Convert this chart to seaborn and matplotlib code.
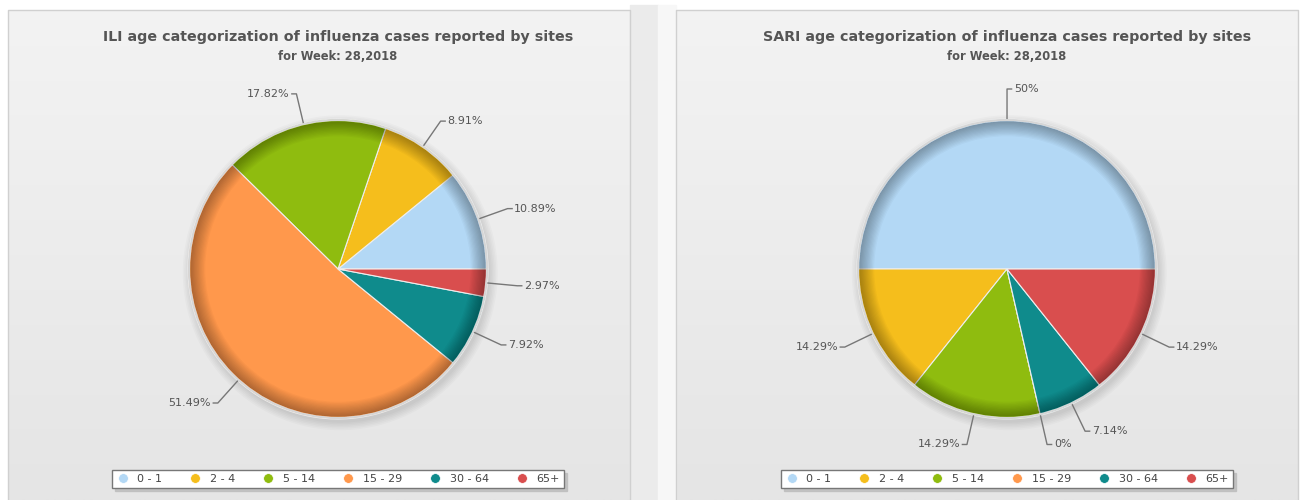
import numpy as np
import matplotlib
matplotlib.use("Agg")
import matplotlib.pyplot as plt
import seaborn as sns
from matplotlib.lines import Line2D
from matplotlib.patches import Rectangle

age_groups = ["0 - 1", "2 - 4", "5 - 14", "15 - 29", "30 - 64", "65+"]
ili_pct = [10.89, 8.91, 17.82, 51.49, 7.92, 2.97]
sari_pct = [50, 14.29, 14.29, 0, 7.14, 14.29]
ili_labels = ["10.89%", "8.91%", "17.82%", "51.49%", "7.92%", "2.97%"]
sari_labels = ["50%", "14.29%", "14.29%", "0%", "7.14%", "14.29%"]
titles = ["ILI age categorization of influenza cases reported by sites",
          "SARI age categorization of influenza cases reported by sites"]
subtitle = "for Week: 28,2018"

sns.set_style("white")
plt.rcParams['font.family'] = ['DejaVu Sans']
palette = sns.color_palette(["#b3d8f5", "#f5be1c", "#8fbc0f", "#ff984c", "#0f8b8c", "#d94e4e"])

W, H = 1302, 500
fig = plt.figure(figsize=(W / 100, H / 100), dpi=100)
fig.patch.set_facecolor("#ffffff")

# background panels
bg = fig.add_axes([0, 0, 1, 1])
bg.set_xlim(0, W)
bg.set_ylim(H, 0)
bg.axis("off")
grad = np.linspace(0, 1, 256).reshape(-1, 1)
panel_cmap = sns.blend_palette(["#f3f3f3", "#e5e5e5"], as_cmap=True)
bg.imshow(grad, cmap=panel_cmap, extent=(8, 630, H, 10), aspect="auto", zorder=0)
bg.imshow(grad, cmap=panel_cmap, extent=(676, 1298, H, 10), aspect="auto", zorder=0)
bg.add_patch(Rectangle((630, 5), 28, H, color="#ebebeb", zorder=0))
bg.add_patch(Rectangle((658, 5), 18, H, color="#f7f7f7", zorder=0))
bg.plot([8, 8, 630, 630], [H, 10, 10, H], color="#d0d0d0", lw=1, zorder=1)
bg.plot([676, 676, 1298, 1298], [H, 10, 10, H], color="#d0d0d0", lw=1, zorder=1)


def draw_pie(cx, values, labels, title):
    R = 150
    lim = 1.6
    size = 2 * lim * R
    ax = fig.add_axes([(cx - size / 2) / W, (H - 269 - size / 2) / H, size / W, size / H])
    ax.set_xlim(-lim, lim)
    ax.set_ylim(-lim, lim)
    ax.set_aspect("equal")
    ax.axis("off")
    ax.patch.set_alpha(0)

    # soft drop shadow
    for k in range(6):
        ax.pie([1], radius=1.0 + 0.01 * k, center=(0.015, -0.025), colors=["#000000"],
               wedgeprops=dict(alpha=0.02, linewidth=0), frame=True)
    ax.pie(values, colors=palette, startangle=0, counterclock=True, radius=1.0,
           wedgeprops=dict(edgecolor="#eeeeee", linewidth=0.8), frame=True)
    # bevel: darker towards the rim
    n = 12
    for k in range(n):
        ax.pie([1], radius=0.985, colors=["#000000"],
               wedgeprops=dict(width=0.1 * (k + 1) / n, alpha=0.026, linewidth=0), frame=True)
    ax.add_patch(plt.Circle((0, 0), 0.993, fill=False, edgecolor="#d6d6d6", lw=1.5))
    ax.set_xlim(-lim, lim)
    ax.set_ylim(-lim, lim)

    total = float(sum(values))
    cum = 0.0
    for v, lab in zip(values, labels):
        th = np.deg2rad(360 * (cum + v / 2) / total)
        cum += v
        c, s = np.cos(th), np.sin(th)
        right = c > -1e-9
        xl, yl = 1.2 * c, 1.2 * s
        sign = 1 if right else -1
        xs = [c, 1.07 * c, xl, xl + sign * 0.035]
        ys = [s, 1.07 * s, yl, yl]
        ax.plot(xs, ys, color="#777777", lw=1, solid_capstyle="butt")
        ax.text(xl + sign * 0.045, yl, lab, ha="left" if right else "right", va="center",
                fontsize=8, color="#555555")

    fig.text(cx / W, 1 - 37 / H, title, ha="center", va="center", fontsize=10.3,
             fontweight="bold", color="#555555")
    fig.text(cx / W, 1 - 56 / H, subtitle, ha="center", va="center", fontsize=8.3,
             fontweight="bold", color="#555555")

    handles = [Line2D([], [], marker="o", linestyle="", markersize=7, markerfacecolor=col,
                      markeredgecolor="white", markeredgewidth=0.5) for col in palette]
    leg = fig.legend(handles, age_groups, ncol=6, loc="center",
                     bbox_to_anchor=(cx / W, 1 - 479 / H), fontsize=8, frameon=True,
                     fancybox=False, shadow={"color": "#bbbbbb", "alpha": 0.8},
                     handlelength=1.2, handletextpad=0.7,
                     columnspacing=2.4, borderpad=0.35, labelcolor="#444444")
    leg.get_frame().set_edgecolor("#777777")
    leg.get_frame().set_linewidth(1)


draw_pie(338, ili_pct, ili_labels, titles[0])
draw_pie(1007, sari_pct, sari_labels, titles[1])

fig.savefig("out.png", dpi=100)
